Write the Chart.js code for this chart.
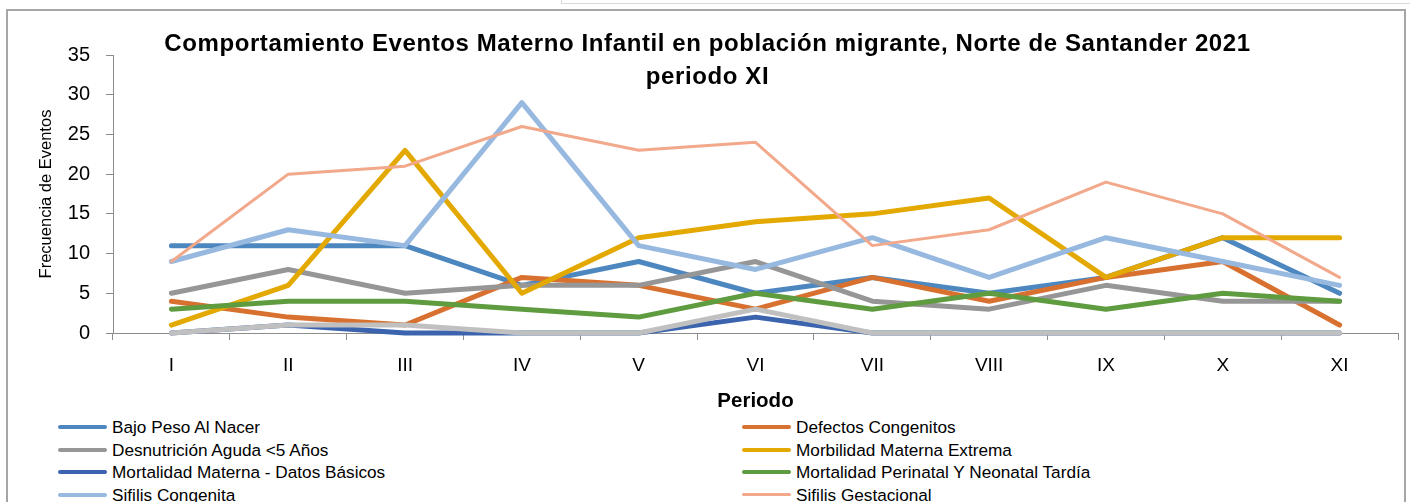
<!DOCTYPE html>
<html>
<head>
<meta charset="utf-8">
<script src="https://cdn.jsdelivr.net/npm/chart.js@4"></script>
<style>
  html, body { margin:0; padding:0; width:1410px; height:502px; overflow:hidden; background:#fff; }
  #topbox { position:absolute; left:561px; top:-2px; width:900px; height:6px; border:1px solid #d9d9d9; box-sizing:border-box; }
  #frame { position:absolute; left:6px; top:9px; width:1400px; height:560px; border:2px solid #a6a6a6; box-sizing:border-box; }
  #wrap { position:absolute; left:0; top:0; width:1410px; height:415px; }
  #title { position:absolute; left:0; width:1415px; top:26px; text-align:center; font-family:"Liberation Sans", Arial, sans-serif; font-weight:bold; font-size:24px; letter-spacing:0.6px; line-height:33px; color:#000; }
  #legend { position:absolute; left:0; top:416px; width:1410px; font-family:"Liberation Sans", Arial, sans-serif; font-size:17.2px; color:#000; }
  .li { position:absolute; height:22px; line-height:22px; white-space:nowrap; }
  .li .sw { position:absolute; left:0; width:49px; border-radius:2px; }
  .li .tx { position:absolute; left:54px; top:0; }
</style>
</head>
<body>
<div id="topbox"></div>
<div id="frame"></div>
<div id="wrap"><canvas id="c"></canvas></div>
<div id="title">Comportamiento Eventos Materno Infantil en población migrante, Norte de Santander 2021<br>periodo XI</div>
<div id="legend"></div>
<script>
const periodos = ["I","II","III","IV","V","VI","VII","VIII","IX","X","XI"];
const bajoPeso        = [11,11,11,6,9,5,7,5,7,12,5];
const defectos        = [4,2,1,7,6,3,7,4,7,9,1];
const desnutricion    = [5,8,5,6,6,9,4,3,6,4,4];
const morbilidad      = [1,6,23,5,12,14,15,17,7,12,12];
const mortMaterna     = [0,1,0,0,0,2,0,0,0,0,0];
const mortPerinatal   = [3,4,4,3,2,5,3,5,3,5,4];
const sifilisCong     = [9,13,11,29,11,8,12,7,12,9,6];
const sifilisGest     = [9,20,21,26,23,24,11,13,19,15,7];
const otroEvento      = [0,1,1,0,0,3,0,0,0,0,0];
const yTicks = [0,5,10,15,20,25,30,35];

const series = [
  { label:"Bajo Peso Al Nacer", data:bajoPeso, color:"#4D87BF", w:5, legend:true },
  { label:"Defectos Congenitos", data:defectos, color:"#D8712F", w:5, legend:true },
  { label:"Desnutrición Aguda <5 Años", data:desnutricion, color:"#969696", w:5, legend:true },
  { label:"Morbilidad Materna Extrema", data:morbilidad, color:"#E3A900", w:5, legend:true },
  { label:"Mortalidad Materna - Datos Básicos", data:mortMaterna, color:"#3B63AE", w:5, legend:true },
  { label:"Mortalidad Perinatal Y Neonatal Tardía", data:mortPerinatal, color:"#5F9B3F", w:5, legend:true },
  { label:"Sifilis Congenita", data:sifilisCong, color:"#97B9E0", w:5, legend:true },
  { label:"Sifilis Gestacional", data:sifilisGest, color:"#F2A88A", w:3, legend:true },
  { label:"", data:otroEvento, color:"#C0C0C0", w:5, legend:false }
];

const N = series.length;
const datasets = series.map((s,i)=>({
  label:s.label, data:s.data, borderColor:s.color, backgroundColor:s.color,
  borderWidth:s.w, pointRadius:0, pointHoverRadius:0, tension:0, fill:false,
  borderCapStyle:'round', borderJoinStyle:'round', clip:false, order:N-i,
  showInLegend:s.legend
}));

const htmlLegend = {
  id:'htmlLegend',
  afterUpdate(chart){
    const box = document.getElementById('legend');
    box.innerHTML = '';
    let k = 0;
    chart.data.datasets.forEach(ds=>{
      if(!ds.showInLegend) return;
      const col = k % 2, row = Math.floor(k/2);
      const el = document.createElement('div');
      el.className = 'li';
      el.style.left = (col===0 ? 58 : 742) + 'px';
      el.style.top = (row*22.5) + 'px';
      const sw = document.createElement('span'); sw.className='sw';
      sw.style.background = ds.borderColor;
      const h = ds.borderWidth <= 3 ? 3 : 4;
      sw.style.height = h + 'px'; sw.style.top = (11 - h/2) + 'px';
      const tx = document.createElement('span'); tx.className='tx'; tx.textContent = ds.label;
      el.appendChild(sw); el.appendChild(tx); box.appendChild(el);
      k++;
    });
  }
};

const axisColor = '#8c8c8c';
new Chart(document.getElementById('c'), {
  type:'line',
  data:{ labels:periodos, datasets },
  options:{
    responsive:true, maintainAspectRatio:false, animation:false,
    layout:{ padding:{ top:55, right:12, bottom:0, left:0 } },
    plugins:{ legend:{display:false}, tooltip:{enabled:false}, title:{display:false} },
    scales:{
      x:{
        type:'category', offset:true,
        grid:{ offset:true, drawOnChartArea:false, drawTicks:true, tickLength:7, color:axisColor },
        border:{ display:true, color:axisColor, width:1 },
        ticks:{ padding:14, color:'#000', font:{ family:'"Liberation Sans", Arial, sans-serif', size:19 } },
        title:{ display:true, text:'Periodo', color:'#000', padding:{top:0,bottom:1},
                font:{ family:'"Liberation Sans", Arial, sans-serif', size:20.5, weight:'bold' } },
        afterFit(s){ s.height = 82; }
      },
      y:{
        min:0, max:35,
        afterBuildTicks(s){ s.ticks = yTicks.map(v=>({value:v})); },
        grid:{ drawOnChartArea:false, drawTicks:true, tickLength:7, color:axisColor },
        border:{ display:true, color:axisColor, width:1 },
        ticks:{ padding:16, color:'#000', font:{ family:'"Liberation Sans", Arial, sans-serif', size:20 } },
        title:{ display:true, text:'Frecuencia de Eventos', color:'#000', padding:{top:37,bottom:0},
                font:{ family:'"Liberation Sans", Arial, sans-serif', size:16.5 } },
        afterFit(s){ s.width = 113; }
      }
    }
  },
  plugins:[htmlLegend]
});
</script>
</body>
</html>
